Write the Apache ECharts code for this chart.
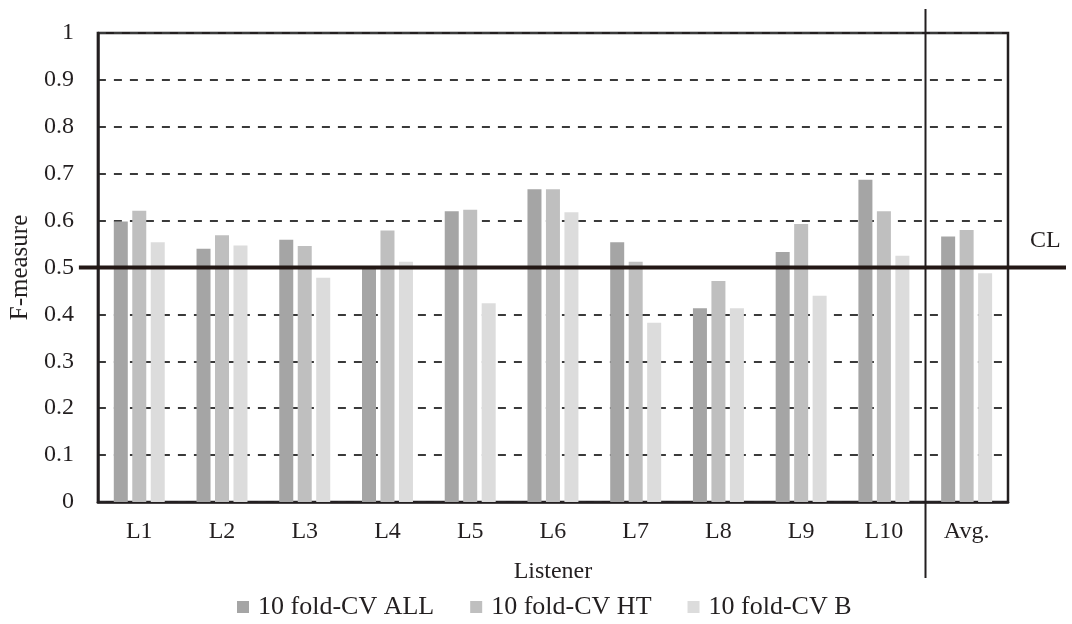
<!DOCTYPE html>
<html>
<head>
<meta charset="utf-8">
<script src="https://cdn.jsdelivr.net/npm/echarts@6/dist/echarts.min.js"></script>
<style>html,body{margin:0;padding:0;background:#fff;}#c{width:1072px;height:624px;}</style>
</head>
<body>
<div id="c"></div>
<script>
var categories = ['L1','L2','L3','L4','L5','L6','L7','L8','L9','L10','Avg.'];
var seriesNames = ['10 fold-CV ALL','10 fold-CV HT','10 fold-CV B'];
var valuesALL = [0.598,0.540,0.559,0.500,0.620,0.667,0.554,0.413,0.533,0.687,0.566];
var valuesHT  = [0.621,0.569,0.546,0.579,0.623,0.667,0.512,0.471,0.593,0.620,0.580];
var valuesB   = [0.554,0.547,0.478,0.512,0.424,0.618,0.382,0.413,0.440,0.525,0.488];
var clValue = 0.5;
var clLabel = 'CL';
var xName = 'Listener';
var yName = 'F-measure';

var FONT = 'Liberation Serif';
var INK = '#231f20';
var colors = ['#a5a5a5','#bfbfbf','#dcdcdc'];

var chart = echarts.init(document.getElementById('c'), null, {renderer:'canvas'});
var data = [valuesALL, valuesHT, valuesB];
var series = seriesNames.map(function(n,i){
  return {
    name: n, type: 'bar', data: data[i],
    barWidth: 14, barGap: '32%',
    itemStyle: {color: colors[i]},
    silent: true
  };
});

var option = {
  animation: false,
  textStyle: {fontFamily: FONT, color: INK},
  grid: {left: 96, right: 64, top: 33, bottom: 122, show: true, borderColor: INK, borderWidth: 2.5, backgroundColor: 'transparent'},
  legend: {
    data: seriesNames, top: 589, left: 232, itemWidth: 12, itemHeight: 12, itemGap: 36,
    icon: 'rect',
    textStyle: {fontFamily: FONT, fontSize: 26, color: INK, padding: [0,0,0,4]}
  },
  xAxis: {
    type: 'category', data: categories,
    name: xName, nameLocation: 'middle', nameGap: 58,
    nameTextStyle: {fontFamily: FONT, fontSize: 24, color: INK},
    axisLine: {show: true, lineStyle: {color: INK, width: 2.5}},
    axisTick: {show: false},
    axisLabel: {fontFamily: FONT, fontSize: 24, color: INK, margin: 18},
    splitLine: {show: false}
  },
  yAxis: {
    type: 'value', min: 0, max: 1, interval: 0.1,
    name: yName, nameLocation: 'middle', nameGap: 56, nameRotate: 90,
    nameTextStyle: {fontFamily: FONT, fontSize: 25, color: INK},
    axisLine: {show: true, lineStyle: {color: INK, width: 2.5}},
    axisTick: {show: false},
    axisLabel: {fontFamily: FONT, fontSize: 24, color: INK, margin: 24,
      formatter: function(v){ return String(Math.round(v*10)/10); }},
    splitLine: {show: true, lineStyle: {color: '#3a3a3a', width: 2, type: [8,8]}}
  },
  series: series
};
chart.setOption(option);

function addDecorations(){
  var xa = chart.convertToPixel({xAxisIndex:0}, 9);
  var xb = chart.convertToPixel({xAxisIndex:0}, 10);
  var sepX = Math.round((xa + xb) / 2) + 0.5;
  var yCL = chart.convertToPixel({yAxisIndex:0}, clValue);
  var yTop = chart.convertToPixel({yAxisIndex:0}, 1);
  var yBot = chart.convertToPixel({yAxisIndex:0}, 0);
  var rect = chart.getModel().getComponent('grid').coordinateSystem.getRect();
  chart.setOption({
    graphic: [
      {type:'line', z: 100, shape:{x1: sepX, y1: yTop - 24, x2: sepX, y2: yBot + 76}, style:{stroke: INK, lineWidth: 2}},
      {type:'line', z: 101, shape:{x1: rect.x - 19, y1: yCL, x2: rect.x + rect.width + 58, y2: yCL}, style:{stroke: '#231815', lineWidth: 4}},
      {type:'text', z: 102, x: rect.x + rect.width + 22, y: yCL - 27, style:{text: clLabel, font: '24px "Liberation Serif"', fill: INK, textVerticalAlign: 'middle'}}
    ]
  });
}
addDecorations();
</script>
</body>
</html>
